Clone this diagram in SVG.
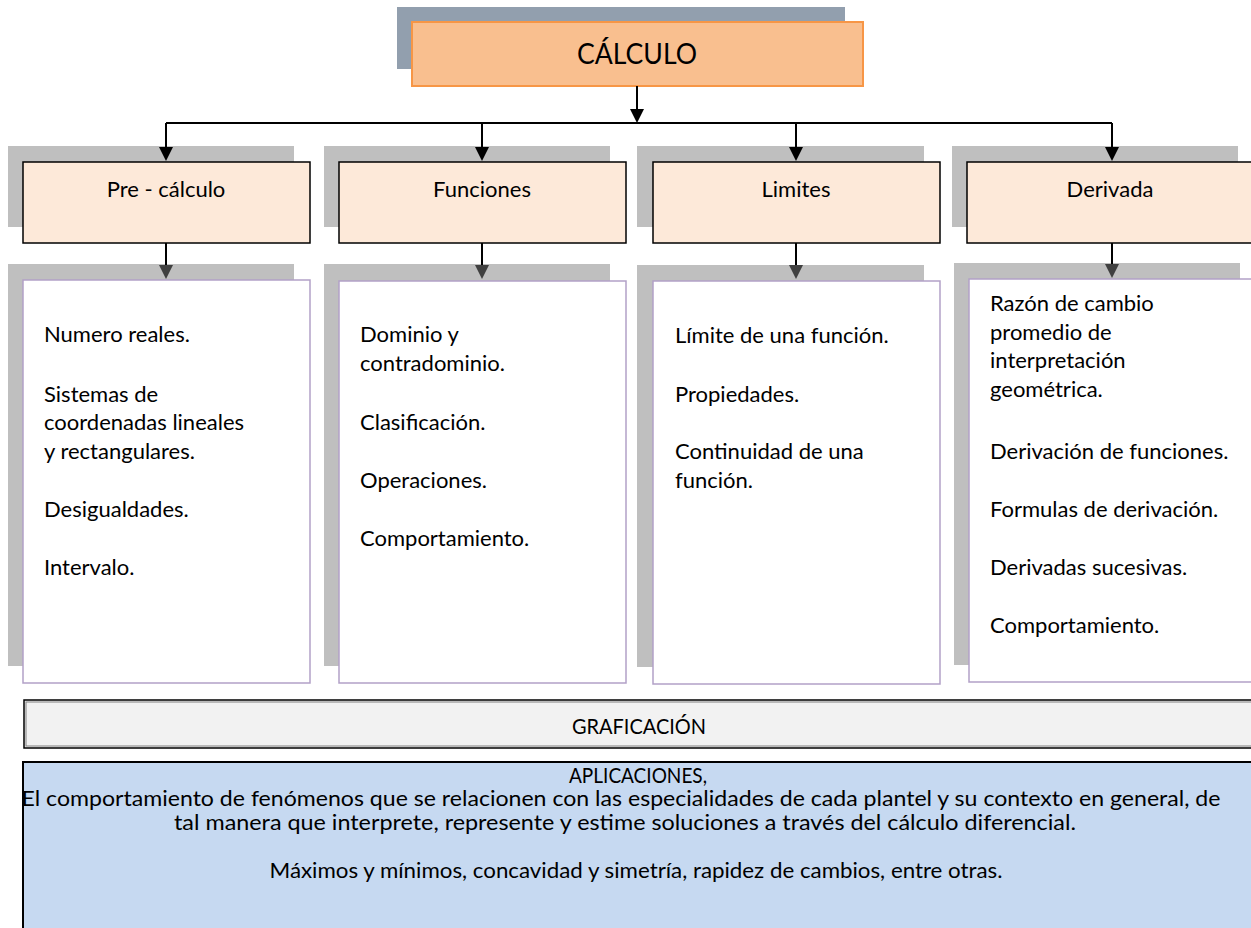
<svg xmlns="http://www.w3.org/2000/svg" width="1251" height="928" viewBox="0 0 1251 928">
<style>
text{font-family:Lato,"Open Sans","Liberation Sans",sans-serif;fill:#000}
.sh{fill:#BFBFBF}
.hd{fill:#FDE9D9;stroke:#000;stroke-width:1.5}
.ct{fill:#fff;stroke:#B2A1C7;stroke-width:1.5}
.ht{font-size:22px;text-anchor:middle}
.tx{font-size:22px}
.bt{font-size:21px;text-anchor:middle}
.ln{stroke:#000;stroke-width:2;fill:none}
.ah{fill:#000}
.ag{fill:#404040}
</style>
<rect width="1251" height="928" fill="#fff"/>

<g id="calculo">
<rect x="397" y="7" width="448" height="62" fill="#929FAE"/>
<rect x="412" y="22" width="451" height="64" fill="#F9BF8F" stroke="#F79646" stroke-width="2"/>
<text x="637" y="64" font-size="29" text-anchor="middle" textLength="120" lengthAdjust="spacingAndGlyphs">CÁLCULO</text>
</g>

<g id="precalculo">
<rect class="sh" x="8" y="146" width="286" height="81"/>
<rect class="hd" x="23" y="162" width="287" height="81"/>
<text class="ht" x="166" y="197">Pre - cálculo</text>
</g>
<g id="funciones">
<rect class="sh" x="324" y="146" width="286" height="81"/>
<rect class="hd" x="339" y="162" width="287" height="81"/>
<text class="ht" x="482" y="197">Funciones</text>
</g>
<g id="limites">
<rect class="sh" x="637" y="146" width="287" height="81"/>
<rect class="hd" x="653" y="162" width="287" height="81"/>
<text class="ht" x="796" y="197">Limites</text>
</g>
<g id="derivada">
<rect class="sh" x="952" y="146" width="286" height="81"/>
<rect class="hd" x="967" y="162" width="292" height="81"/>
<text class="ht" x="1110" y="197">Derivada</text>
</g>

<g id="precalculo-temas">
<rect class="sh" x="8" y="264" width="286" height="402"/>
<rect class="ct" x="23" y="280" width="287" height="403"/>
<text class="tx" x="44" y="342">Numero reales.</text>
<text class="tx" x="44" y="402">Sistemas de</text>
<text class="tx" x="44" y="430">coordenadas lineales</text>
<text class="tx" x="44" y="459">y rectangulares.</text>
<text class="tx" x="44" y="517">Desigualdades.</text>
<text class="tx" x="44" y="575">Intervalo.</text>
</g>
<g id="funciones-temas">
<rect class="sh" x="324" y="264" width="286" height="402"/>
<rect class="ct" x="339" y="281" width="287" height="402"/>
<text class="tx" x="360" y="342">Dominio y</text>
<text class="tx" x="360" y="371">contradominio.</text>
<text class="tx" x="360" y="430">Clasificación.</text>
<text class="tx" x="360" y="488">Operaciones.</text>
<text class="tx" x="360" y="546">Comportamiento.</text>
</g>
<g id="limites-temas">
<rect class="sh" x="637" y="265" width="287" height="402"/>
<rect class="ct" x="653" y="281" width="287" height="403"/>
<text class="tx" x="675" y="343">Límite de una función.</text>
<text class="tx" x="675" y="402">Propiedades.</text>
<text class="tx" x="675" y="459">Continuidad de una</text>
<text class="tx" x="675" y="488">función.</text>
</g>
<g id="derivada-temas">
<rect class="sh" x="954" y="263" width="286" height="402"/>
<rect class="ct" x="969" y="279" width="290" height="403"/>
<text class="tx" x="990" y="311">Razón de cambio</text>
<text class="tx" x="990" y="340">promedio de</text>
<text class="tx" x="990" y="368">interpretación</text>
<text class="tx" x="990" y="397">geométrica.</text>
<text class="tx" x="990" y="459">Derivación de funciones.</text>
<text class="tx" x="990" y="517">Formulas de derivación.</text>
<text class="tx" x="990" y="575">Derivadas sucesivas.</text>
<text class="tx" x="990" y="633">Comportamiento.</text>
</g>

<g id="graficacion">
<rect x="24" y="700" width="1240" height="48" fill="#F2F2F2" stroke="#000" stroke-width="1.5"/>
<rect x="26" y="702" width="1236" height="44" fill="none" stroke="#808080" stroke-width="1"/>
<text class="bt" x="639" y="734" textLength="134" lengthAdjust="spacingAndGlyphs">GRAFICACIÓN</text>
</g>

<g id="aplicaciones">
<rect x="23" y="762" width="1240" height="180" fill="#C6D9F1" stroke="#000" stroke-width="2"/>
<text class="bt" x="638" y="783" textLength="138" lengthAdjust="spacingAndGlyphs">APLICACIONES,</text>
<text class="bt" x="621" y="806" textLength="1199" lengthAdjust="spacingAndGlyphs">El comportamiento de fenómenos que se relacionen con las especialidades de cada plantel y su contexto en general, de</text>
<text class="bt" x="625" y="830" textLength="902" lengthAdjust="spacingAndGlyphs">tal manera que interprete, represente y estime soluciones a través del cálculo diferencial.</text>
<text class="bt" x="636" y="878" textLength="733" lengthAdjust="spacingAndGlyphs">Máximos y mínimos, concavidad y simetría, rapidez de cambios, entre otras.</text>
</g>

<g id="connectors">
<line class="ln" x1="637" y1="86" x2="637" y2="110"/>
<path class="ah" d="M630,109 L644,109 L637,123 Z"/>
<line class="ln" x1="166" y1="123" x2="1112" y2="123"/>
<line class="ln" x1="166" y1="123" x2="166" y2="148"/>
<path class="ah" d="M159,147 L173,147 L166,161 Z"/>
<line class="ln" x1="482" y1="123" x2="482" y2="148"/>
<path class="ah" d="M475,147 L489,147 L482,161 Z"/>
<line class="ln" x1="796" y1="123" x2="796" y2="148"/>
<path class="ah" d="M789,147 L803,147 L796,161 Z"/>
<line class="ln" x1="1112" y1="123" x2="1112" y2="148"/>
<path class="ah" d="M1105,147 L1119,147 L1112,161 Z"/>
<line class="ln" x1="166" y1="243" x2="166" y2="266"/>
<path class="ag" d="M159,265 L173,265 L166,279 Z"/>
<line class="ln" x1="482" y1="243" x2="482" y2="266"/>
<path class="ag" d="M475,265 L489,265 L482,279 Z"/>
<line class="ln" x1="796" y1="243" x2="796" y2="266"/>
<path class="ag" d="M789,265 L803,265 L796,279 Z"/>
<line class="ln" x1="1112" y1="243" x2="1112" y2="265"/>
<path class="ag" d="M1105,264 L1119,264 L1112,278 Z"/>
</g>
</svg>
